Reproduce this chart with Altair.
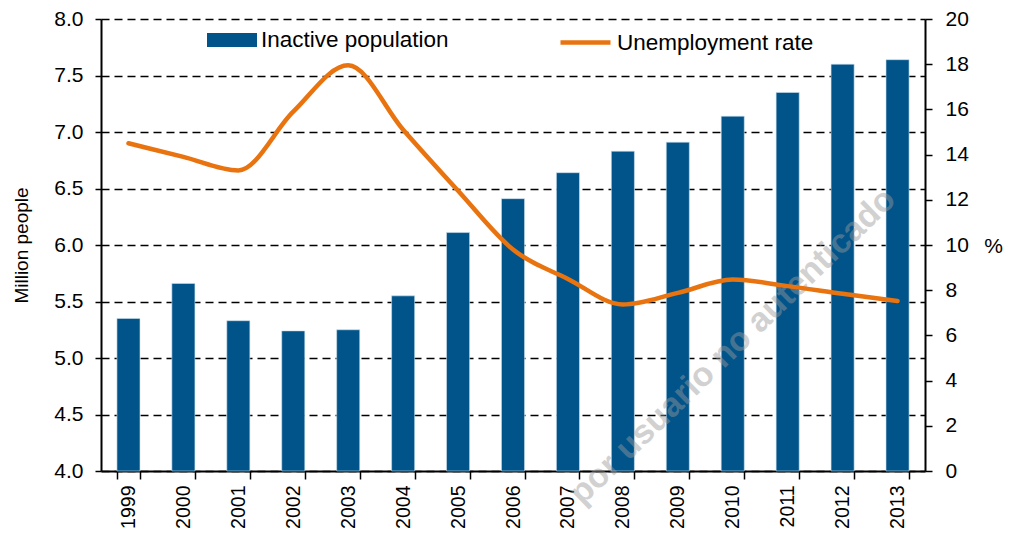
import altair as alt
import pandas as pd

years = ["1999", "2000", "2001", "2002", "2003", "2004", "2005", "2006",
         "2007", "2008", "2009", "2010", "2011", "2012", "2013"]
inactive = [5.35, 5.66, 5.33, 5.24, 5.25, 5.55, 6.11, 6.41, 6.64, 6.83,
            6.91, 7.14, 7.35, 7.60, 7.64]
unemployment = [14.5, 13.9, 13.3, 15.9, 17.95, 15.1, 12.4, 9.8, 8.5, 7.37,
                7.88, 8.47, 8.18, 7.84, 7.52]
left_ticks = [4.0, 4.5, 5.0, 5.5, 6.0, 6.5, 7.0, 7.5, 8.0]
right_ticks = [0, 2, 4, 6, 8, 10, 12, 14, 16, 18, 20]

BLUE = "#00548A"
ORANGE = "#E8730F"
FONT = "Liberation Sans"

df = pd.DataFrame({
    "year": years,
    "inactive": inactive,
    "unemp": unemployment,
    "s1": "Inactive population",
    "s2": "Unemployment rate",
})
wm = pd.DataFrame({"year": ["2010"], "v": [5.0], "t": ["por usuario no autenticado"]})

xscale = alt.Scale(domain=years, paddingInner=0.58, paddingOuter=0.29)

x_axis = alt.Axis(
    title=None, labelAngle=270, labelAlign="right", labelBaseline="middle",
    labelFontSize=19.5, labelFont=FONT, labelColor="black", labelPadding=6,
    tickBand="extent", tickSize=8, tickColor="black", tickWidth=1.5,
    domainColor="black", domainWidth=2, grid=False, labelOverlap=False,
)

X = alt.X("year:N", scale=xscale, axis=x_axis, sort=years)

bars = alt.Chart(df).mark_bar(color=BLUE, stroke="#cfe0ec", strokeWidth=0.6).encode(
    x=X,
    y=alt.Y(
        "inactive:Q",
        scale=alt.Scale(domain=[4, 8], zero=False, nice=False),
        axis=alt.Axis(
            orient="left", values=left_ticks, format=".1f", title="Million people",
            titleFontSize=19, titleFont=FONT, titleFontWeight="normal",
            titleColor="black", titlePadding=22,
            labelFontSize=21, labelFont=FONT, labelColor="black", labelPadding=12,
            tickSize=6, tickColor="black", tickWidth=1.5,
            domainColor="black", domainWidth=2,
            grid=True, gridColor="black", gridDash=[8, 5], gridWidth=1.3,
        ),
    ),
    y2=alt.datum(4),
    color=alt.Color(
        "s1:N",
        scale=alt.Scale(domain=["Inactive population"], range=[BLUE]),
        legend=alt.Legend(
            title=None, orient="none", legendX=106, legendY=-4,
            symbolType="M-1,-0.28H1V0.28H-1Z", symbolSize=2500,
            symbolStrokeWidth=0, symbolOpacity=1,
            labelFontSize=22.5, labelFont=FONT, labelColor="black",
            labelOffset=4, labelLimit=0, padding=0,
        ),
    ),
)

watermark = alt.Chart(wm).mark_text(
    angle=316, fontSize=34, fontWeight="bold", font=FONT,
    color="#9a9a9a", opacity=0.45, align="center", baseline="middle", dx=8, dy=-8,
).encode(
    x=X,
    y=alt.Y("v:Q", scale=alt.Scale(domain=[4, 8], zero=False, nice=False), axis=None),
    text="t:N",
)

line = alt.Chart(df).mark_line(strokeWidth=4.5, interpolate="monotone", strokeCap="round").encode(
    x=X,
    y=alt.Y(
        "unemp:Q",
        scale=alt.Scale(domain=[0, 20], nice=False),
        axis=alt.Axis(
            orient="right", values=right_ticks, format="d", title="%",
            titleAngle=0, titleFontSize=21, titleFont=FONT, titleFontWeight="normal",
            titleColor="black", titleX=68, titleY=227, titleAlign="center",
            titleBaseline="middle",
            labelFontSize=21, labelFont=FONT, labelColor="black", labelPadding=13,
            tickSize=7, tickColor="black", tickWidth=1.5,
            domainColor="black", domainWidth=2, grid=False,
        ),
    ),
    stroke=alt.Stroke(
        "s2:N",
        scale=alt.Scale(domain=["Unemployment rate"], range=[ORANGE]),
        legend=alt.Legend(
            title=None, orient="none", legendX=457, legendY=-4,
            symbolType="stroke", symbolSize=2500, symbolStrokeWidth=4.5,
            labelFontSize=22.5, labelFont=FONT, labelColor="black",
            labelOffset=4, labelLimit=0, padding=0,
        ),
    ),
)

chart = alt.layer(bars, watermark, line).resolve_scale(
    y="independent", color="independent", stroke="independent"
).properties(
    width=824, height=452,
    autosize=alt.AutoSizeParams(type="none"),
    padding={"left": 93, "top": 11, "right": 79, "bottom": 59},
    background="white",
).configure_view(stroke=None)

chart.save("out.html", embed_options={"renderer": "svg", "actions": False})
